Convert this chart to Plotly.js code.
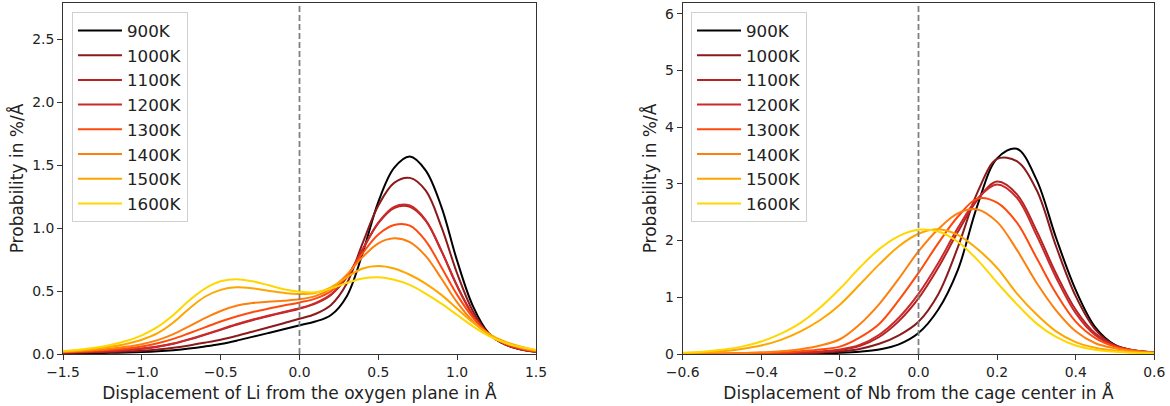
<!DOCTYPE html>
<html>
<head>
<meta charset="utf-8">
<script src="https://cdn.plot.ly/plotly-3.0.1.min.js"></script>
<style>
html, body { margin: 0; padding: 0; background: #ffffff; }
#chart { width: 1170px; height: 406px; }
</style>
</head>
<body>
<div id="chart"></div>
<script>
// ---------- data ----------
const temperatures = ['900K', '1000K', '1100K', '1200K', '1300K', '1400K', '1500K', '1600K'];

// Li displacement from the oxygen plane (Å)
const xLi = [-1.5, -1.4, -1.3, -1.2, -1.1, -1.0, -0.9, -0.8, -0.7, -0.6, -0.5, -0.4, -0.3, -0.2, -0.1, 0.0,
             0.1, 0.2, 0.3, 0.4, 0.5, 0.6, 0.7, 0.8, 0.9, 1.0, 1.1, 1.2, 1.3, 1.4, 1.5];
const li900  = [0.006, 0.007, 0.008, 0.009, 0.011, 0.015, 0.021, 0.030, 0.043, 0.060, 0.080, 0.106, 0.136, 0.166, 0.197, 0.228,
                0.258, 0.310, 0.460, 0.800, 1.210, 1.480, 1.570, 1.460, 1.170, 0.740, 0.380, 0.165, 0.078, 0.038, 0.018];
const li1000 = [0.010, 0.011, 0.013, 0.016, 0.020, 0.026, 0.036, 0.050, 0.068, 0.090, 0.114, 0.144, 0.177, 0.210, 0.245, 0.280,
                0.318, 0.390, 0.560, 0.880, 1.180, 1.360, 1.400, 1.300, 1.010, 0.640, 0.340, 0.160, 0.078, 0.038, 0.019];
const li1100 = [0.011, 0.014, 0.018, 0.023, 0.030, 0.041, 0.057, 0.081, 0.114, 0.152, 0.192, 0.232, 0.268, 0.300, 0.330, 0.360,
                0.400, 0.470, 0.610, 0.830, 1.040, 1.160, 1.170, 1.060, 0.820, 0.540, 0.310, 0.160, 0.080, 0.040, 0.020];
const li1200 = [0.012, 0.015, 0.019, 0.024, 0.032, 0.043, 0.060, 0.084, 0.118, 0.156, 0.196, 0.236, 0.272, 0.304, 0.334, 0.364,
                0.405, 0.475, 0.610, 0.830, 1.045, 1.170, 1.180, 1.065, 0.820, 0.540, 0.310, 0.160, 0.080, 0.040, 0.020];
const li1300 = [0.014, 0.019, 0.025, 0.033, 0.044, 0.060, 0.085, 0.120, 0.165, 0.212, 0.258, 0.298, 0.332, 0.360, 0.385, 0.410,
                0.440, 0.500, 0.620, 0.800, 0.950, 1.025, 1.020, 0.900, 0.690, 0.470, 0.290, 0.160, 0.085, 0.045, 0.022];
const li1400 = [0.017, 0.023, 0.031, 0.042, 0.057, 0.078, 0.110, 0.158, 0.220, 0.285, 0.342, 0.383, 0.405, 0.416, 0.424, 0.435,
                0.460, 0.520, 0.630, 0.770, 0.880, 0.920, 0.890, 0.780, 0.600, 0.410, 0.260, 0.155, 0.090, 0.050, 0.025];
const li1500 = [0.020, 0.028, 0.040, 0.057, 0.080, 0.113, 0.165, 0.250, 0.360, 0.455, 0.510, 0.530, 0.522, 0.503, 0.486, 0.477,
                0.485, 0.530, 0.610, 0.680, 0.700, 0.680, 0.630, 0.560, 0.470, 0.360, 0.250, 0.160, 0.100, 0.060, 0.030];
const li1600 = [0.024, 0.034, 0.049, 0.071, 0.103, 0.148, 0.215, 0.310, 0.425, 0.520, 0.578, 0.595, 0.578, 0.548, 0.515, 0.495,
                0.490, 0.520, 0.565, 0.600, 0.610, 0.590, 0.550, 0.480, 0.400, 0.310, 0.220, 0.145, 0.090, 0.055, 0.032];

// Nb displacement from the cage center (Å)
const xNb = [-0.6, -0.55, -0.5, -0.45, -0.4, -0.35, -0.3, -0.25, -0.2, -0.15, -0.1, -0.05, 0.0,
             0.05, 0.1, 0.15, 0.2, 0.25, 0.3, 0.35, 0.4, 0.45, 0.5, 0.55, 0.6];
const nb900  = [0.000, 0.000, 0.000, 0.000, 0.001, 0.002, 0.004, 0.009, 0.020, 0.040, 0.080, 0.170, 0.370,
                0.780, 1.480, 2.620, 3.450, 3.620, 3.080, 2.050, 1.130, 0.470, 0.160, 0.060, 0.025];
const nb1000 = [0.000, 0.000, 0.001, 0.002, 0.004, 0.007, 0.012, 0.024, 0.045, 0.090, 0.180, 0.330, 0.570,
                1.050, 1.880, 2.850, 3.440, 3.400, 2.900, 1.900, 1.020, 0.430, 0.150, 0.055, 0.022];
const nb1100 = [0.000, 0.000, 0.002, 0.004, 0.006, 0.012, 0.020, 0.040, 0.070, 0.140, 0.300, 0.580, 0.980,
                1.520, 2.150, 2.720, 3.040, 2.820, 2.180, 1.420, 0.780, 0.360, 0.150, 0.060, 0.025];
const nb1200 = [0.000, 0.000, 0.003, 0.005, 0.008, 0.015, 0.025, 0.045, 0.080, 0.160, 0.340, 0.640, 1.060,
                1.600, 2.220, 2.740, 2.990, 2.760, 2.100, 1.350, 0.720, 0.330, 0.140, 0.055, 0.022];
const nb1300 = [0.000, 0.001, 0.004, 0.008, 0.015, 0.025, 0.050, 0.080, 0.130, 0.290, 0.530, 0.950, 1.430,
                1.950, 2.420, 2.740, 2.670, 2.320, 1.700, 1.070, 0.570, 0.280, 0.130, 0.060, 0.025];
const nb1400 = [0.002, 0.004, 0.008, 0.015, 0.030, 0.050, 0.085, 0.150, 0.260, 0.520, 0.880, 1.330, 1.810,
                2.200, 2.480, 2.550, 2.330, 1.840, 1.260, 0.770, 0.400, 0.190, 0.100, 0.050, 0.025];
const nb1500 = [0.012, 0.025, 0.050, 0.090, 0.150, 0.250, 0.400, 0.600, 0.870, 1.220, 1.580, 1.900, 2.120,
                2.200, 2.100, 1.850, 1.520, 1.070, 0.700, 0.400, 0.210, 0.110, 0.060, 0.030, 0.015];
const nb1600 = [0.020, 0.040, 0.076, 0.130, 0.220, 0.360, 0.550, 0.820, 1.150, 1.520, 1.850, 2.080, 2.190,
                2.160, 1.980, 1.660, 1.260, 0.880, 0.540, 0.300, 0.150, 0.076, 0.040, 0.020, 0.010];

const xTicksLi = [-1.5, -1.0, -0.5, 0.0, 0.5, 1.0, 1.5];
const yTicksLi = [0.0, 0.5, 1.0, 1.5, 2.0, 2.5];
const xTicksNb = [-0.6, -0.4, -0.2, 0.0, 0.2, 0.4, 0.6];
const yTicksNb = [0, 1, 2, 3, 4, 5, 6];

// ---------- styles ----------
const lineColors = ['#000000', '#8b1a1a', '#b52424', '#cc2a2a', '#ff4a0e', '#ff7f0e', '#ffa500', '#ffd700'];
const liSeries = [li900, li1000, li1100, li1200, li1300, li1400, li1500, li1600];
const nbSeries = [nb900, nb1000, nb1100, nb1200, nb1300, nb1400, nb1500, nb1600];

const FONT = 'DejaVu Sans, Liberation Sans, sans-serif';
const traces = [];
temperatures.forEach((t, i) => {
  traces.push({
    x: xLi, y: liSeries[i], name: t, type: 'scatter', mode: 'lines',
    line: {color: lineColors[i], width: 2, shape: 'spline', smoothing: 1},
    xaxis: 'x', yaxis: 'y', legend: 'legend', hoverinfo: 'skip'
  });
});
temperatures.forEach((t, i) => {
  traces.push({
    x: xNb, y: nbSeries[i], name: t, type: 'scatter', mode: 'lines',
    line: {color: lineColors[i], width: 2, shape: 'spline', smoothing: 1},
    xaxis: 'x2', yaxis: 'y2', legend: 'legend2', hoverinfo: 'skip'
  });
});

const axisCommon = {
  showgrid: false, zeroline: false, showline: true, mirror: true,
  linecolor: '#333333', linewidth: 1, ticks: 'outside', ticklen: 5, tickwidth: 1,
  tickcolor: '#333333', tickfont: {family: FONT, size: 13.9, color: '#222222'},
  automargin: false
};
const titleFont = {family: FONT, size: 17, color: '#222222'};
const legendCommon = {
  font: {family: FONT, size: 16.7, color: '#222222'},
  bgcolor: 'rgba(255,255,255,0.8)', bordercolor: '#d0d0d0', borderwidth: 1,
  xanchor: 'left', yanchor: 'top', tracegroupgap: 0, itemwidth: 44
};

const layout = {
  width: 1170, height: 406,
  margin: {l: 0, r: 0, t: 3, b: 52},
  paper_bgcolor: '#ffffff', plot_bgcolor: '#ffffff',
  showlegend: true,
  xaxis: Object.assign({}, axisCommon, {
    domain: [0.05385, 0.45812], range: [-1.5, 1.5], tickvals: xTicksLi, tickformat: '.1f',
    anchor: 'y',
    title: {text: 'Displacement of Li from the oxygen plane in Å', font: titleFont, standoff: 8}
  }),
  yaxis: Object.assign({}, axisCommon, {
    domain: [0, 1], range: [0, 2.79], tickvals: yTicksLi, tickformat: '.1f', anchor: 'x',
    title: {text: 'Probability in %/Å', font: titleFont, standoff: 4}
  }),
  xaxis2: Object.assign({}, axisCommon, {
    domain: [0.58350, 0.98658], range: [-0.6, 0.6], tickvals: xTicksNb, tickformat: '.1f',
    anchor: 'y2',
    title: {text: 'Displacement of Nb from the cage center in Å', font: titleFont, standoff: 8}
  }),
  yaxis2: Object.assign({}, axisCommon, {
    domain: [0, 1], range: [0, 6.19], tickvals: yTicksNb, tickformat: 'd', anchor: 'x2',
    title: {text: 'Probability in %/Å', font: titleFont, standoff: 4}
  }),
  legend: Object.assign({}, legendCommon, {x: 0.0615, y: 0.974}),
  legend2: Object.assign({}, legendCommon, {x: 0.5906, y: 0.974}),
  shapes: [
    {type: 'line', xref: 'x', yref: 'y domain', x0: 0, x1: 0, y0: 0, y1: 1,
     line: {color: '#808080', width: 1.8, dash: '6px,3px'}, layer: 'above'},
    {type: 'line', xref: 'x2', yref: 'y2 domain', x0: 0, x1: 0, y0: 0, y1: 1,
     line: {color: '#808080', width: 1.8, dash: '6px,3px'}, layer: 'above'}
  ]
};

Plotly.newPlot('chart', traces, layout, {staticPlot: true, displayModeBar: false});
</script>
</body>
</html>
